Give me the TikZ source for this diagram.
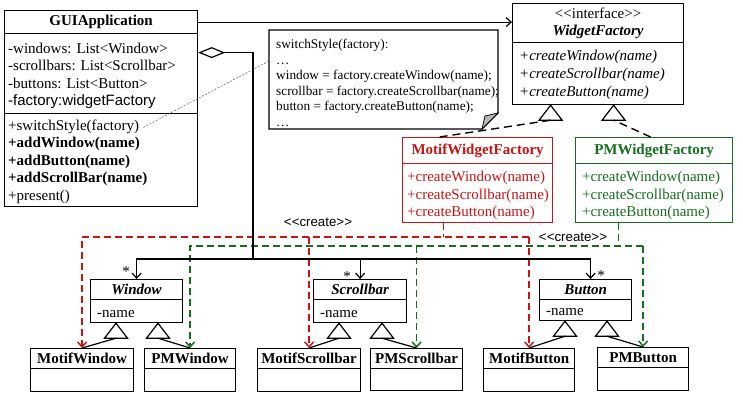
\documentclass[tikz,border=0pt]{standalone}
\usepackage{fontspec}
\setmainfont{Liberation Serif}
\newfontfamily\arialf{Liberation Sans}
\usetikzlibrary{arrows.meta}
\definecolor{mred}{RGB}{200,20,20}
\definecolor{mgreen}{RGB}{20,110,30}
\newcommand\fsz{\fontsize{15}{18}\selectfont}
\newcommand\nsz{\fontsize{13.3}{15}\selectfont}
\newcommand\lsym{\textless\kern0pt}
\newcommand\gsym{\textgreater\kern0pt}
\begin{document}
\begin{tikzpicture}[x=1pt,y=-1pt,
 box/.style={draw, line width=1.2pt, inner sep=0, anchor=north west, font=\fsz},
 t/.style={anchor=base west, inner sep=0, font=\fsz},
 nt/.style={anchor=base west, inner sep=0, font=\nsz},
 arr/.style={-{Straight Barb[length=5pt,width=9pt]}},
 assoc/.style={draw, line width=1.2pt, arr},
 rd/.style={draw=mred, line width=1.5pt, dash pattern=on 7pt off 4pt},
 gd/.style={draw=mgreen, line width=1.5pt, dash pattern=on 7pt off 4pt},
 realz/.style={draw, line width=1.4pt, dash pattern=on 8pt off 5pt},
 gen/.style={draw, line width=1.2pt},
 gtri/.pic={\draw[line width=1.2pt, fill=white] (0,0) -- (-11.5,15) -- (11.5,15) -- cycle; \coordinate (-b) at (0,15);},
]
\useasboundingbox (0,0) rectangle (743,400);

% GUIApplication
\node[box, minimum width=193pt, minimum height=23pt, font=\fsz\bfseries] (gt) at (4,10) {GUIApplication};
\node[box, minimum width=193pt, minimum height=80pt] (ga) at (4,33) {};
\node[box, minimum width=193pt, minimum height=93pt] (gm) at (4,113) {};
\node[t] (a1) at (8,53) {-windows: List\lsym Window\gsym};
\node[t] (a2) at (8,70.5) {-scrollbars: List\lsym Scrollbar\gsym};
\node[t] (a3) at (8,88) {-buttons: List\lsym Button\gsym};
\node[t, font=\fsz\arialf] (a4) at (8,105.5) {-factory:widgetFactory};
\node[t] (m1) at (8,130) {+switchStyle(factory)};
\node[t, font=\fsz\bfseries] (m2) at (8,147.5) {+addWindow(name)};
\node[t, font=\fsz\bfseries] (m3) at (8,165) {+addButton(name)};
\node[t, font=\fsz\bfseries] (m4) at (8,182.5) {+addScrollBar(name)};
\node[t] (m5) at (8,200) {+present()};

% WidgetFactory
\node[box, minimum width=171pt, minimum height=39pt, align=center] (wt) at (512,3) {\lsym\lsym interface\gsym\gsym\\[-1pt]\textbf{\textit{WidgetFactory}}};
\node[box, minimum width=171pt, minimum height=62pt] (wm) at (512,42) {};
\node[t, font=\fsz\itshape] (w1) at (519,60) {+createWindow(name)};
\node[t, font=\fsz\itshape] (w2) at (519,78) {+createScrollbar(name)};
\node[t, font=\fsz\itshape] (w3) at (519,96) {+createButton(name)};

% Note
\draw[line width=1.2pt] (269,30) -- (498,30) -- (498,113) -- (482,129) -- (269,129) -- cycle;
\filldraw[line width=0.8pt, fill=gray!55] (498,113) -- (482,129) -- (485,116) -- cycle;
\node[nt] (n1) at (276,48.5) {switchStyle(factory):};
\node[nt] (n2) at (276,64) {…};
\node[nt] (n3) at (276,79.5) {window = factory.createWindow(name);};
\node[nt] (n4) at (276,95) {scrollbar = factory.createScrollbar(name);};
\node[nt] (n5) at (276,110.5) {button = factory.createButton(name);};
\node[nt] (n6) at (276,126) {…};
\coordinate (noteL) at (269,61);
\draw[gray!70!black, line width=0.5pt, dash pattern=on 2pt off 1.5pt] ([xshift=4pt,yshift=-1pt]m1.east) -- (noteL);

% Motif factory
\node[box, draw=mred, text=mred, minimum width=150pt, minimum height=26pt, font=\fsz\bfseries] (mft) at (402,137) {MotifWidgetFactory};
\node[box, draw=mred, minimum width=150pt, minimum height=59pt] (mfm) at (402,163) {};
\node[t, text=mred] (r1) at (407,181.5) {+createWindow(name)};
\node[t, text=mred] (r2) at (407,199) {+createScrollbar(name)};
\node[t, text=mred] (r3) at (407,216.5) {+createButton(name)};

% PM factory
\node[box, draw=mgreen, text=mgreen, minimum width=157pt, minimum height=26pt, font=\fsz\bfseries] (pft) at (575,137) {PMWidgetFactory};
\node[box, draw=mgreen, minimum width=157pt, minimum height=59pt] (pfm) at (575,163) {};
\node[t, text=mgreen] (q1) at (582,181.5) {+createWindow(name)};
\node[t, text=mgreen] (q2) at (582,199) {+createScrollbar(name)};
\node[t, text=mgreen] (q3) at (582,216.5) {+createButton(name)};

% realization
\pic (rt1) at ([xshift=-47.5pt]wm.south) {gtri};
\pic (rt2) at ([xshift=15.5pt]wm.south) {gtri};
\draw[realz] ([xshift=-38pt]mft.north) -- (rt1-b);
\draw[realz] ([xshift=-3.5pt]pft.north) -- (rt2-b);

% association GUI -> WidgetFactory
\draw[assoc] (gt.east) -- (gt.east -| wt.west);

% parent classes
\node[box, minimum width=92pt, minimum height=20pt, font=\fsz\bfseries\itshape] (wint) at (90,279) {Window};
\node[box, minimum width=92pt, minimum height=23pt] (winm) at (90,299) {};
\node[t] (wn) at (97,317) {-name};
\node[box, minimum width=93pt, minimum height=20pt, font=\fsz\bfseries\itshape] (sbt) at (313,279) {Scrollbar};
\node[box, minimum width=93pt, minimum height=23pt] (sbm) at (313,299) {};
\node[t] (sn) at (320,317) {-name};
\node[box, minimum width=92pt, minimum height=20pt, font=\fsz\bfseries\itshape] (btt) at (539,279) {Button};
\node[box, minimum width=92pt, minimum height=21pt] (btm) at (539,299) {};
\node[t] (bn) at (546,315) {-name};

% children
\node[box, minimum width=103pt, minimum height=20pt, font=\fsz\bfseries] (mw) at (30,348) {MotifWindow};
\node[box, minimum width=103pt, minimum height=23pt] (mwb) at (30,368) {};
\node[box, minimum width=91pt, minimum height=20pt, font=\fsz\bfseries] (pw) at (144,348) {PMWindow};
\node[box, minimum width=91pt, minimum height=23pt] (pwb) at (144,368) {};
\node[box, minimum width=103pt, minimum height=20pt, font=\fsz\bfseries] (ms) at (257,348) {MotifScrollbar};
\node[box, minimum width=103pt, minimum height=23pt] (msb) at (257,368) {};
\node[box, minimum width=92pt, minimum height=20pt, font=\fsz\bfseries] (ps) at (370,348) {PMScrollbar};
\node[box, minimum width=92pt, minimum height=22pt] (psb) at (370,368) {};
\node[box, minimum width=91pt, minimum height=20pt, font=\fsz\bfseries] (mb) at (483,348) {MotifButton};
\node[box, minimum width=91pt, minimum height=23pt] (mbb) at (483,368) {};
\node[box, minimum width=91pt, minimum height=20pt, font=\fsz\bfseries] (pb) at (597,347) {PMButton};
\node[box, minimum width=91pt, minimum height=23pt] (pbb) at (597,367) {};

% generalizations
\pic (g1) at ([xshift=26pt]winm.south west) {gtri};
\pic (g2) at ([xshift=68pt]winm.south west) {gtri};
\pic (g3) at ([xshift=26pt]sbm.south west) {gtri};
\pic (g4) at ([xshift=69pt]sbm.south west) {gtri};
\pic (g5) at ([xshift=26pt]btm.south west) {gtri};
\pic (g6) at ([xshift=68pt]btm.south west) {gtri};
\draw[gen] (g1-b) -- (mw.north);
\draw[gen] (g2-b) -- (pw.north);
\draw[gen] (g3-b) -- (ms.north);
\draw[gen] (g4-b) -- (ps.north);
\draw[gen] (g5-b) -- (mb.north);
\draw[gen] (g6-b) -- (pb.north);

% create dependencies
\coordinate (rbus) at (0,237);
\coordinate (gbus) at (0,246);
\draw[rd] ([xshift=-34pt]mfm.south) -- ([xshift=-34pt]mfm.south |- rbus);
\draw[rd, arr] (mb.north |- rbus) -| (mw.north);
\draw[rd, arr] (ms.north |- rbus) -- (ms.north);
\draw[rd, arr] (mb.north |- rbus) -- (mb.north);
\draw[gd] ([xshift=-35.5pt]pfm.south) -- ([xshift=-35.5pt]pfm.south |- gbus);
\draw[gd, arr] (pb.north |- gbus) -| (pw.north);
\draw[gd, arr] (ps.north |- gbus) -- (ps.north);
\draw[gd, arr] (pb.north |- gbus) -- (pb.north);
\node[font=\nsz\arialf, inner sep=0] (c1) at (318,222) {\lsym\lsym create\gsym\gsym};
\node[font=\nsz\arialf, inner sep=0] (c2) at (573,237) {\lsym\lsym create\gsym\gsym};

% aggregation
\coordinate (abus) at (253,259);
\draw[line width=1.2pt, {Diamond[fill=white,length=27pt,width=11pt]}-] ([yshift=21pt]ga.east) -| (abus);
\draw[assoc] (abus) -| (wint.north);
\draw[assoc] (abus) -| ([xshift=5pt]btt.north);
\draw[assoc] (sbt.north |- abus) -- (sbt.north);
\node[anchor=base, inner sep=0, font=\fsz] (st1) at (126,276) {*};
\node[anchor=base, inner sep=0, font=\fsz] (st2) at (347,281) {*};
\node[anchor=base, inner sep=0, font=\fsz] (st3) at (601,280) {*};
\end{tikzpicture}
\end{document}
